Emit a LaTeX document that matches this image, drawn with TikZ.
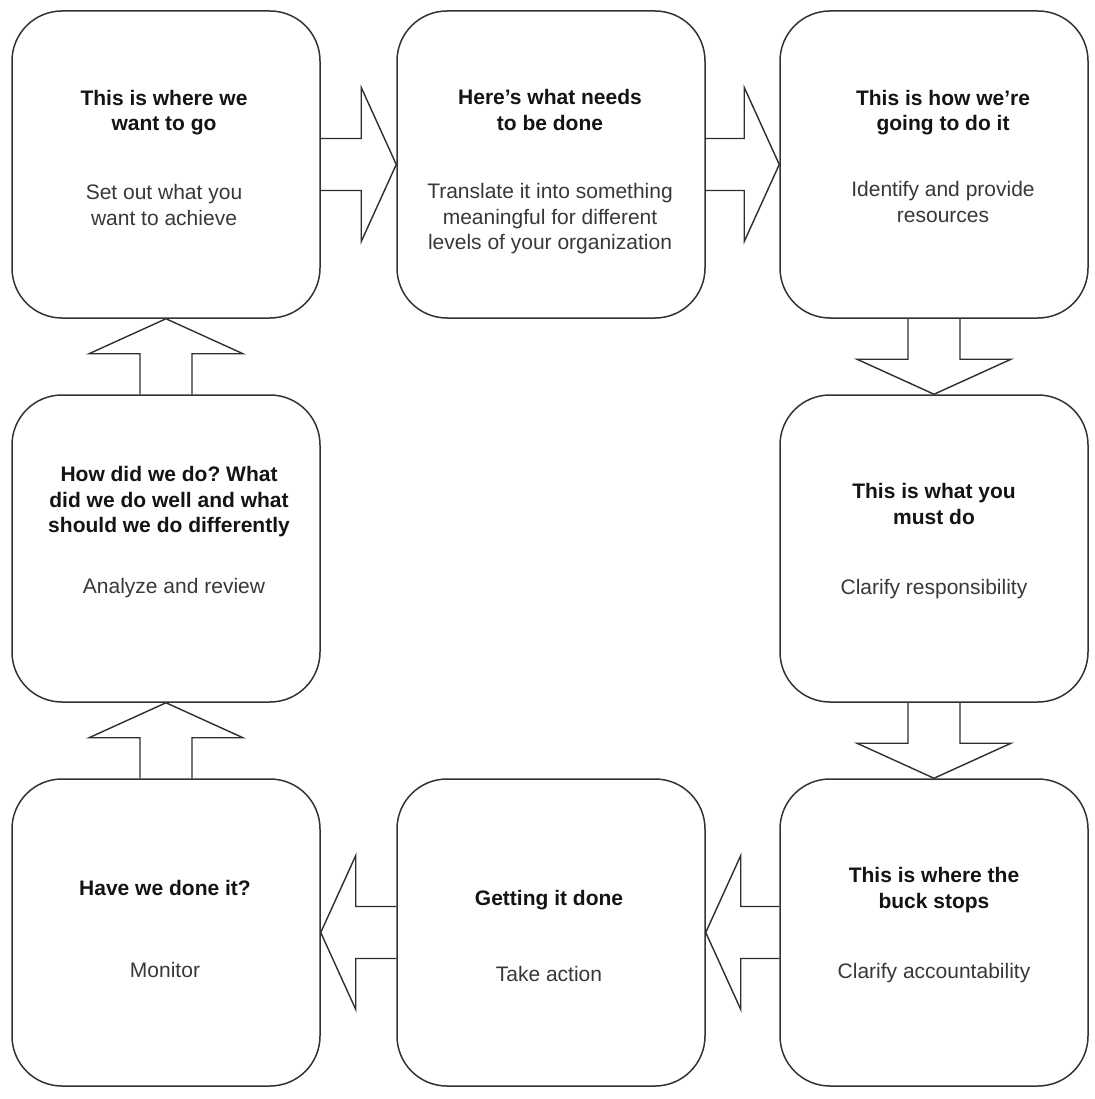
\documentclass[tikz,border=0pt]{standalone}
\usepackage{fontspec}
\setmainfont{Liberation Sans}
\usetikzlibrary{calc}
\frenchspacing

\tikzset{
  stage/.style={draw=black!80, line width=1.5pt, rounded corners=50pt,
    minimum width=308pt, minimum height=307pt, inner sep=0pt, fill=white},
  heading/.style={align=center, inner sep=0pt, text=black!92,
    font=\fontsize{21}{25.5}\selectfont\bfseries},
  detail/.style={align=center, inner sep=0pt, text=black!78,
    font=\fontsize{21}{25.5}\selectfont},
  blockarrow/.style={draw=black!82, line width=1.4pt, line join=miter}
}

% hollow block arrows between stage boxes
\newcommand\blkR[2]{\draw[blockarrow] ($(#1.east)+(0,-26)$) -- ($(#2.west)+(-35,-26)$) -- ($(#2.west)+(-35,-77)$) -- (#2.west) -- ($(#2.west)+(-35,77)$) -- ($(#2.west)+(-35,26)$) -- ($(#1.east)+(0,26)$);}
\newcommand\blkL[2]{\draw[blockarrow] ($(#1.west)+(0,-26)$) -- ($(#2.east)+(35,-26)$) -- ($(#2.east)+(35,-77)$) -- (#2.east) -- ($(#2.east)+(35,77)$) -- ($(#2.east)+(35,26)$) -- ($(#1.west)+(0,26)$);}
\newcommand\blkD[2]{\draw[blockarrow] ($(#1.south)+(-26,0)$) -- ($(#2.north)+(-26,-35)$) -- ($(#2.north)+(-77,-35)$) -- (#2.north) -- ($(#2.north)+(77,-35)$) -- ($(#2.north)+(26,-35)$) -- ($(#1.south)+(26,0)$);}
\newcommand\blkU[2]{\draw[blockarrow] ($(#1.north)+(-26,0)$) -- ($(#2.south)+(-26,35)$) -- ($(#2.south)+(-77,35)$) -- (#2.south) -- ($(#2.south)+(77,35)$) -- ($(#2.south)+(26,35)$) -- ($(#1.north)+(26,0)$);}

\begin{document}
\begin{tikzpicture}[x=1pt, y=-1pt]
\useasboundingbox (0,0) rectangle (1094,1099);

% stage boxes
\node[stage] (goal)    at (166,164.5) {};
\node[stage] (need)    at (551,164.5) {};
\node[stage] (how)     at (934,164.5) {};
\node[stage] (review)  at (166,548.5) {};
\node[stage] (must)    at (934,548.5) {};
\node[stage] (buck)    at (934,932.5) {};
\node[stage] (act)     at (551,932.5) {};
\node[stage] (monitor) at (166,932.5) {};

% box texts
\node[heading] (goalH) at (164,113) {\strut This is where we\\\strut want to go};
\node[detail]  (goalD) at (164,207.5) {\strut Set out what you\\\strut want to achieve};

\node[heading] (needH) at (550,112.5) {\strut Here’s what needs\\\strut to be done};
\node[detail]  (needD) at (550,219) {\strut Translate it into something\\\strut meaningful for different\\\strut levels of your organization};

\node[heading] (howH) at (943,113) {\strut This is how we’re\\\strut going to do it};
\node[detail]  (howD) at (943,204.5) {\strut Identify and provide\\\strut resources};

\node[heading] (reviewH) at (169,502) {\strut How did we do? What\\\strut did we do well and what\\\strut should we do differently};
\node[detail]  (reviewD) at (174,588) {\strut Analyze and review};

\node[heading] (mustH) at (934,506.5) {\strut This is what you\\\strut must do};
\node[detail]  (mustD) at (934,589) {\strut Clarify responsibility};

\node[heading] (buckH) at (934,890.5) {\strut This is where the\\\strut buck stops};
\node[detail]  (buckD) at (934,973) {\strut Clarify accountability};

\node[heading] (actH) at (549,900) {\strut Getting it done};
\node[detail]  (actD) at (549,976) {\strut Take action};

\node[heading] (monitorH) at (165,890) {\strut Have we done it?};
\node[detail]  (monitorD) at (165,972) {\strut Monitor};

% cycle of block arrows
\blkR{goal}{need}
\blkR{need}{how}
\blkD{how}{must}
\blkD{must}{buck}
\blkL{buck}{act}
\blkL{act}{monitor}
\blkU{monitor}{review}
\blkU{review}{goal}
\end{tikzpicture}
\end{document}
